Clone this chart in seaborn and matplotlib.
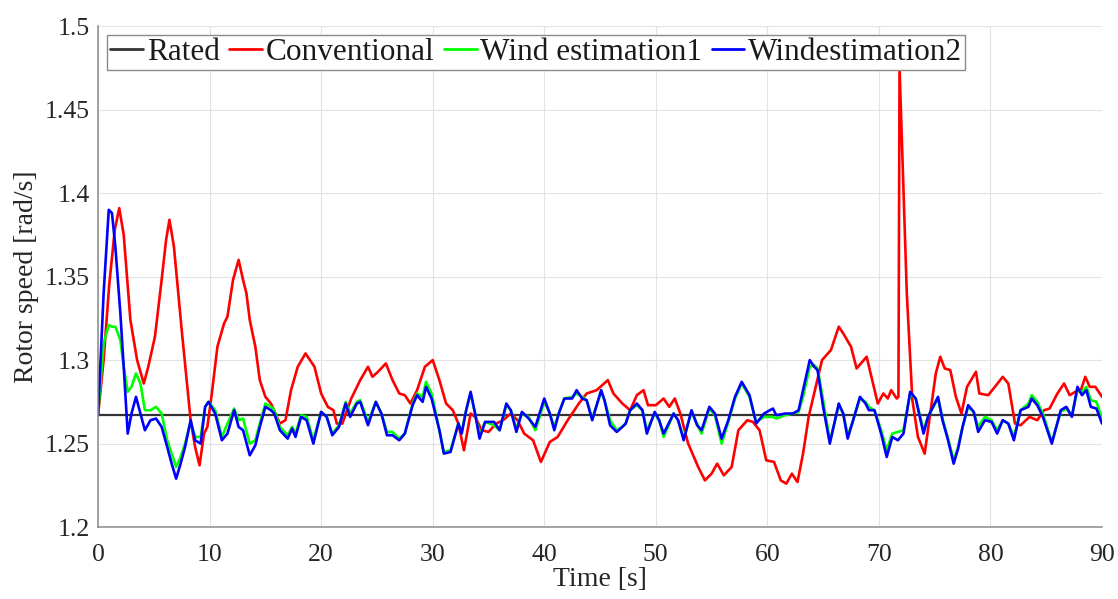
import matplotlib
matplotlib.use("Agg")
import matplotlib.pyplot as plt
import seaborn as sns

# tempo [s]
t_rated = [0, 90]
rated = [1.267, 1.267]

t_conv = [0, 0.5, 1.0, 1.5, 1.9, 2.3, 2.9, 3.5, 4.1, 4.5, 5.1, 5.7, 6.1, 6.4, 6.8, 7.5, 8.3, 8.7,
          9.1, 9.5, 9.8, 10.2, 10.7, 11.3, 11.6, 12.1, 12.6, 13.0, 13.3, 13.6, 14.1, 14.5, 15.0,
          15.5, 16.3, 16.8, 17.3, 17.9, 18.6, 19.4, 20.0, 20.6, 21.1, 21.4, 21.9, 22.7, 23.5,
          24.2, 24.6, 25.1, 25.8, 26.4, 27.0, 27.5, 28.0, 28.6, 29.3, 30.0, 30.6, 31.2, 31.8,
          32.3, 32.8, 33.4, 33.8, 34.4, 35.0, 35.7, 36.3, 37.0, 37.6, 38.2, 39.0, 39.7, 40.5,
          41.2, 42.1, 43.1, 43.8, 44.7, 45.7, 46.2, 47.0, 47.7, 48.3, 48.9, 49.3, 50.0, 50.7,
          51.2, 51.7, 52.2, 52.9, 53.8, 54.4, 55.0, 55.5, 56.1, 56.8, 57.4, 58.2, 58.7, 59.3,
          59.9, 60.6, 61.2, 61.7, 62.2, 62.7, 63.2, 63.7, 64.4, 64.9, 65.7, 66.4, 66.8, 67.5,
          68.0, 68.9, 69.4, 69.9, 70.4, 70.8, 71.1, 71.6, 71.75, 71.85, 72.5, 73.0, 73.5, 74.1,
          74.6, 75.1, 75.5, 75.9, 76.4, 76.9, 77.4, 77.9, 78.7, 79.0, 79.8, 80.4, 81.1, 81.6,
          82.2, 82.7, 83.5, 84.2, 84.8, 85.3, 86.0, 86.6, 87.1, 87.6, 88.1, 88.5, 88.9, 89.4, 90.0]
conv = [1.267, 1.300, 1.345, 1.378, 1.391, 1.375, 1.324, 1.300, 1.286, 1.296, 1.314, 1.348, 1.372,
        1.384, 1.368, 1.318, 1.264, 1.248, 1.237, 1.256, 1.260, 1.280, 1.308, 1.322, 1.326, 1.348,
        1.360, 1.348, 1.340, 1.324, 1.308, 1.288, 1.278, 1.274, 1.262, 1.264, 1.282, 1.296, 1.304,
        1.296, 1.280, 1.272, 1.270, 1.262, 1.262, 1.277, 1.288, 1.296, 1.290, 1.293, 1.298, 1.288,
        1.280, 1.279, 1.274, 1.282, 1.296, 1.300, 1.288, 1.274, 1.270, 1.262, 1.246, 1.268, 1.266,
        1.258, 1.257, 1.262, 1.264, 1.268, 1.264, 1.256, 1.252, 1.239, 1.251, 1.254, 1.264, 1.274,
        1.280, 1.282, 1.288, 1.280, 1.274, 1.270, 1.279, 1.282, 1.273, 1.273, 1.277, 1.272, 1.277,
        1.268, 1.250, 1.236, 1.228, 1.232, 1.238, 1.231, 1.236, 1.258, 1.264, 1.263, 1.258, 1.240,
        1.239, 1.228, 1.226, 1.232, 1.227, 1.244, 1.266, 1.286, 1.300, 1.306, 1.320, 1.316, 1.308,
        1.295, 1.302, 1.288, 1.274, 1.280, 1.277, 1.282, 1.277, 1.278, 1.475, 1.340, 1.276, 1.254,
        1.244, 1.268, 1.292, 1.302, 1.295, 1.294, 1.278, 1.268, 1.284, 1.293, 1.280, 1.279, 1.284,
        1.290, 1.286, 1.262, 1.261, 1.266, 1.264, 1.270, 1.271, 1.280, 1.286, 1.279, 1.281, 1.282,
        1.290, 1.284, 1.284, 1.278]

t_est = [0, 0.5, 0.96, 1.25, 1.55, 2.0, 2.3, 2.66, 3.0, 3.4, 3.8, 4.2, 4.7, 5.2, 5.7, 6.2, 6.6, 7.0,
         7.4, 7.8, 8.3, 8.7, 9.2, 9.6, 9.9, 10.5, 11.1, 11.6, 12.2, 12.6, 13.0, 13.6, 14.1, 14.5,
         15.0, 15.5, 15.8, 16.3, 17.0, 17.4, 17.7, 18.2, 18.7, 19.3, 20.0, 20.5, 21.0, 21.6, 22.2,
         22.6, 23.2, 23.5, 24.2, 24.9, 25.4, 25.9, 26.4, 27.0, 27.5, 28.2, 28.6, 29.1, 29.4, 29.9,
         30.6, 31.0, 31.6, 32.3, 32.6, 33.0, 33.4, 33.8, 34.2, 34.7, 35.5, 36.0, 36.6, 37.0, 37.5,
         38.0, 38.6, 39.2, 40.0, 40.5, 40.9, 41.3, 41.8, 42.5, 42.9, 43.4, 43.8, 44.3, 45.1, 45.4,
         45.9, 46.5, 47.0, 47.3, 47.7, 48.3, 48.8, 49.2, 49.9, 50.3, 50.7, 51.6, 52.0, 52.5, 53.2,
         53.7, 54.1, 54.8, 55.3, 55.9, 56.5, 57.1, 57.7, 58.4, 59.0, 59.7, 60.5, 60.8, 61.6, 62.3,
         62.8, 63.2, 63.8, 64.2, 64.5, 65.0, 65.6, 66.0, 66.4, 66.8, 67.2, 67.6, 68.3, 68.8, 69.1,
         69.6, 70.2, 70.7, 71.2, 71.7, 72.2, 72.8, 73.3, 74.0, 74.4, 75.3, 75.7, 76.2, 76.7, 77.1,
         77.5, 78.0, 78.5, 78.9, 79.5, 80.1, 80.6, 81.1, 81.6, 82.1, 82.7, 83.4, 83.7, 84.2, 84.7,
         85.5, 86.3, 86.8, 87.3, 87.8, 88.2, 88.6, 89.0, 89.5, 90.0]
est1 = [1.267, 1.310, 1.321, 1.320, 1.320, 1.312, 1.296, 1.281, 1.284, 1.292, 1.286, 1.270, 1.270,
        1.272, 1.268, 1.252, 1.244, 1.236, 1.242, 1.250, 1.263, 1.254, 1.254, 1.272, 1.275, 1.270,
        1.254, 1.262, 1.271, 1.264, 1.265, 1.250, 1.252, 1.262, 1.274, 1.272, 1.270, 1.260, 1.255,
        1.260, 1.256, 1.267, 1.266, 1.252, 1.269, 1.266, 1.256, 1.261, 1.275, 1.268, 1.275, 1.276,
        1.263, 1.275, 1.268, 1.257, 1.257, 1.253, 1.256, 1.274, 1.280, 1.278, 1.287, 1.280, 1.258,
        1.245, 1.246, 1.262, 1.257, 1.270, 1.280, 1.268, 1.255, 1.263, 1.261, 1.258, 1.273, 1.270,
        1.259, 1.268, 1.266, 1.258, 1.275, 1.268, 1.260, 1.268, 1.277, 1.278, 1.280, 1.278, 1.276,
        1.265, 1.281, 1.276, 1.264, 1.258, 1.260, 1.262, 1.270, 1.273, 1.270, 1.258, 1.268, 1.264,
        1.254, 1.268, 1.264, 1.253, 1.269, 1.262, 1.256, 1.271, 1.267, 1.250, 1.263, 1.277, 1.286,
        1.278, 1.263, 1.266, 1.266, 1.265, 1.267, 1.268, 1.269, 1.278, 1.296, 1.297, 1.295, 1.276,
        1.252, 1.262, 1.273, 1.268, 1.255, 1.262, 1.277, 1.275, 1.272, 1.270, 1.258, 1.246, 1.256,
        1.257, 1.258, 1.280, 1.277, 1.258, 1.266, 1.277, 1.265, 1.253, 1.240, 1.248, 1.260, 1.272,
        1.269, 1.260, 1.266, 1.264, 1.258, 1.264, 1.262, 1.254, 1.270, 1.274, 1.279, 1.275, 1.268,
        1.251, 1.269, 1.271, 1.267, 1.282, 1.281, 1.284, 1.276, 1.275, 1.265]
est2 = [1.267, 1.340, 1.390, 1.388, 1.368, 1.328, 1.296, 1.256, 1.268, 1.278, 1.268, 1.258, 1.264,
        1.265, 1.260, 1.248, 1.238, 1.229, 1.238, 1.248, 1.264, 1.252, 1.250, 1.272, 1.275, 1.268,
        1.252, 1.256, 1.270, 1.260, 1.258, 1.243, 1.249, 1.260, 1.272, 1.270, 1.268, 1.258, 1.253,
        1.259, 1.254, 1.266, 1.264, 1.250, 1.269, 1.266, 1.255, 1.260, 1.274, 1.266, 1.274, 1.275,
        1.261, 1.275, 1.268, 1.255, 1.255, 1.252, 1.256, 1.273, 1.279, 1.275, 1.284, 1.277, 1.258,
        1.244, 1.245, 1.262, 1.256, 1.270, 1.281, 1.268, 1.253, 1.263, 1.263, 1.258, 1.274, 1.270,
        1.257, 1.269, 1.265, 1.260, 1.277, 1.268, 1.258, 1.268, 1.277, 1.277, 1.282, 1.277, 1.276,
        1.264, 1.282, 1.276, 1.261, 1.257, 1.260, 1.262, 1.270, 1.274, 1.270, 1.256, 1.269, 1.264,
        1.256, 1.268, 1.264, 1.252, 1.270, 1.261, 1.258, 1.272, 1.268, 1.253, 1.264, 1.278, 1.287,
        1.279, 1.262, 1.268, 1.271, 1.267, 1.268, 1.268, 1.270, 1.282, 1.300, 1.296, 1.294, 1.272,
        1.250, 1.262, 1.274, 1.268, 1.253, 1.262, 1.278, 1.274, 1.270, 1.270, 1.256, 1.242, 1.254,
        1.252, 1.256, 1.281, 1.277, 1.256, 1.266, 1.278, 1.264, 1.252, 1.238, 1.247, 1.260, 1.273,
        1.269, 1.257, 1.264, 1.263, 1.256, 1.264, 1.262, 1.252, 1.270, 1.272, 1.277, 1.273, 1.266,
        1.250, 1.270, 1.272, 1.266, 1.284, 1.279, 1.282, 1.272, 1.271, 1.262]

sns.set_style("whitegrid")
plt.rcParams['font.family'] = ['Liberation Serif', 'DejaVu Serif']

fig = plt.figure(figsize=(11.18, 5.99), dpi=100)
ax = fig.add_axes([0.0877, 0.12, 0.898, 0.8365])

sns.lineplot(x=t_rated, y=rated, color='#333333', linewidth=1.6, label='Rated', ax=ax)
sns.lineplot(x=t_conv, y=conv, color='#ff0000', linewidth=1.9, label='Conventional', ax=ax)
sns.lineplot(x=t_est, y=est1, color='#00ff00', linewidth=1.9, label='Wind estimation1', ax=ax)
sns.lineplot(x=t_est, y=est2, color='#0000ff', linewidth=1.9, label='Windestimation2', ax=ax)

ax.set_xlim(0, 90)
ax.set_ylim(1.2, 1.5)
ax.set_xticks(range(0, 91, 10))
ax.set_yticks([1.2, 1.25, 1.3, 1.35, 1.4, 1.45, 1.5])
ax.set_yticklabels(['1.2', '1.25', '1.3', '1.35', '1.4', '1.45', '1.5'])
ax.grid(True, color='#e3e3e3', linewidth=0.8)
for s in ['top', 'right']:
    ax.spines[s].set_visible(False)
for s in ['left', 'bottom']:
    ax.spines[s].set_color('#8a8a8a')
    ax.spines[s].set_linewidth(1.1)
ax.tick_params(direction='in', length=6, width=0.8, color='#8a8a8a',
               labelsize=18.5, labelcolor='#262626')
ax.tick_params(axis='x', pad=12)
ax.tick_params(axis='y', pad=6)
ax.set_xlabel('Time [s]', fontsize=20, color='#262626', labelpad=1)
ax.set_ylabel('Rotor speed [rad/s]', fontsize=20, color='#262626', labelpad=4)

leg = ax.legend(loc='upper left', bbox_to_anchor=(0.009, 0.982), ncol=4, fontsize=22.5,
                handlelength=1.05, handletextpad=0.12, columnspacing=0.3,
                borderpad=0.1, borderaxespad=0, frameon=True, fancybox=False, framealpha=1)
leg.get_frame().set_edgecolor('#8a8a8a')
leg.get_frame().set_linewidth(1.0)
for line in leg.get_lines():
    line.set_linewidth(2.0)
for txt in leg.get_texts():
    txt.set_color('#1a1a1a')

fig.savefig('out.png', dpi=100)
